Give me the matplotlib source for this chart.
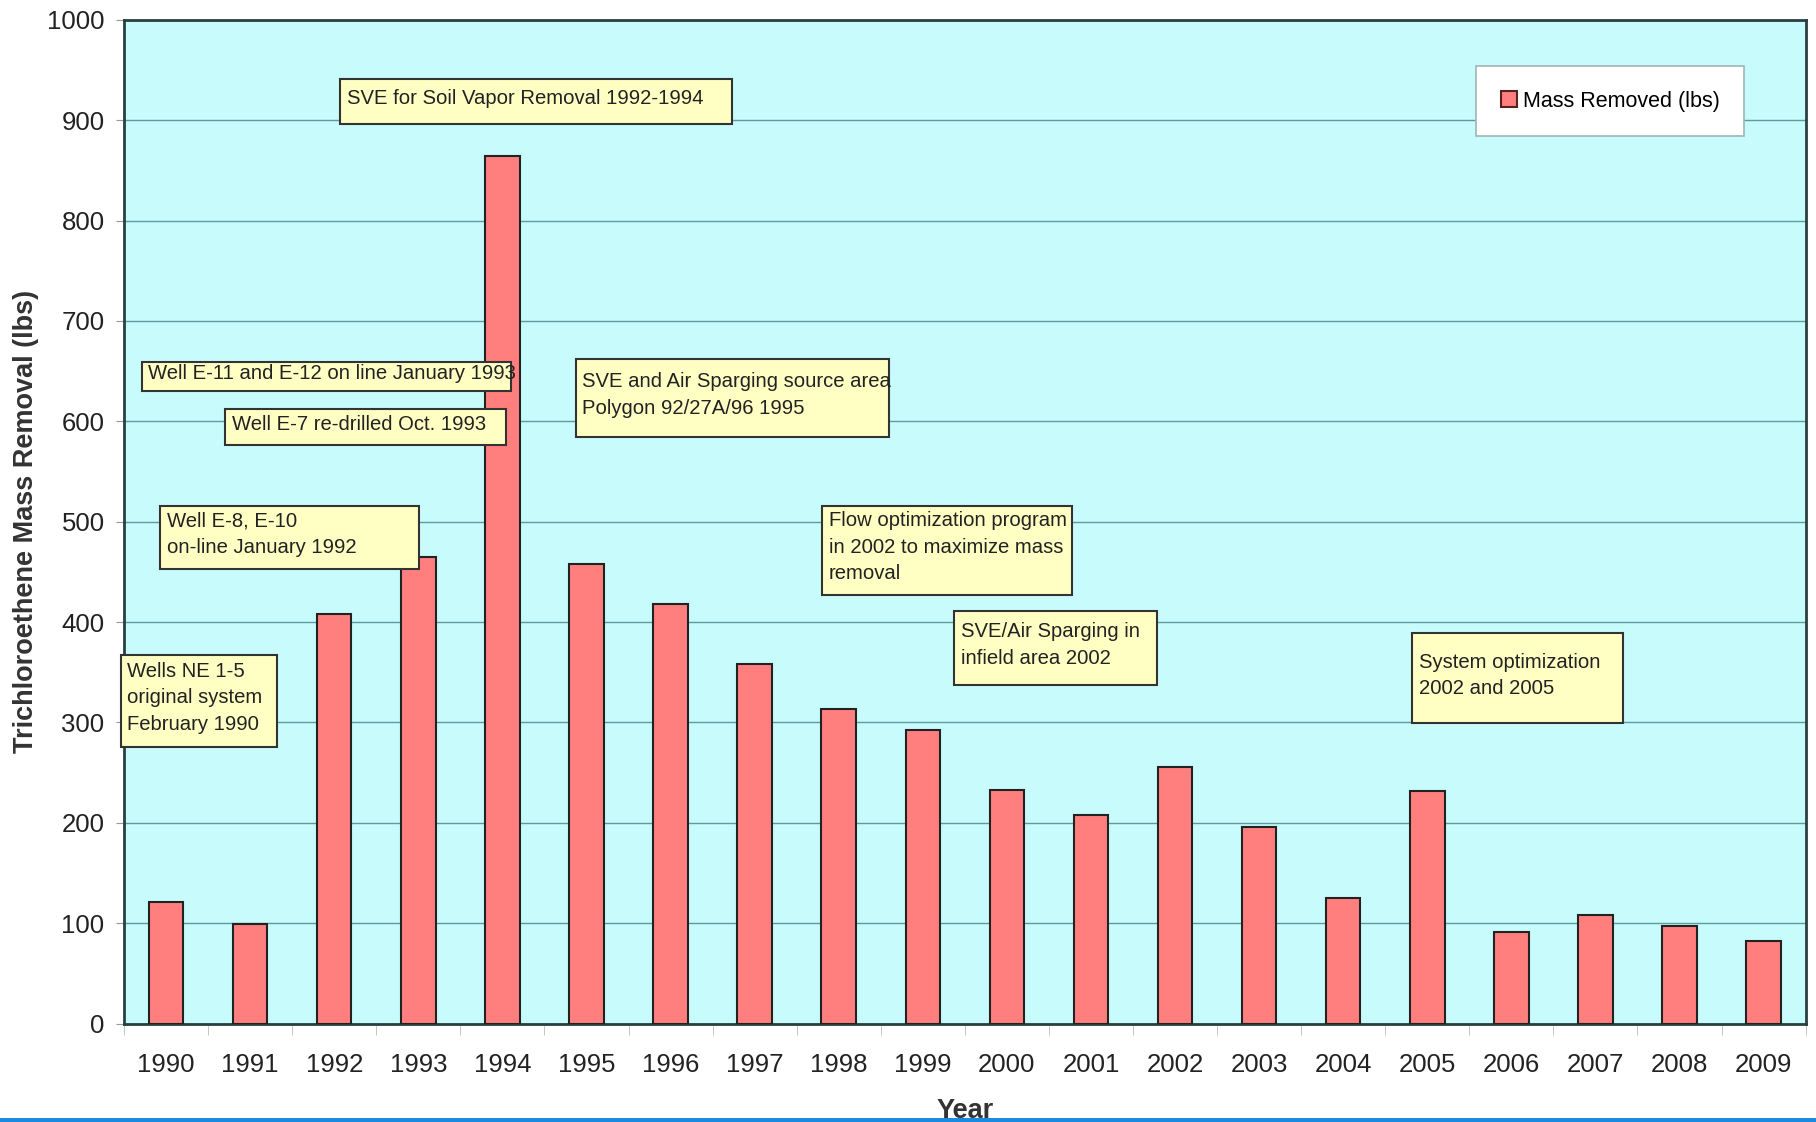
import matplotlib.pyplot as plt
import numpy as np
from matplotlib.patches import Rectangle

plt.rcParams['font.family'] = ['Liberation Sans', 'DejaVu Sans']

years = ['1990', '1991', '1992', '1993', '1994', '1995', '1996', '1997', '1998', '1999',
         '2000', '2001', '2002', '2003', '2004', '2005', '2006', '2007', '2008', '2009']
mass_removed = [121, 99, 408, 465, 864, 458, 418, 358, 313, 292,
                233, 208, 256, 196, 125, 232, 91, 108, 97, 82]

# note text, box left/right (category units), box bottom/top (lbs)
notes = [
    ("SVE for Soil Vapor Removal 1992-1994", 2.07, 6.73, 896, 941),
    ("Well E-11 and E-12 on line January 1993", -0.29, 4.10, 630, 659),
    ("Well E-7 re-drilled Oct. 1993", 0.70, 4.04, 576, 612),
    ("SVE and Air Sparging source area\nPolygon 92/27A/96 1995", 4.87, 8.60, 584, 662),
    ("Well E-8, E-10\non-line January 1992", -0.07, 3.01, 453, 516),
    ("Wells NE 1-5\noriginal system\nFebruary 1990", -0.54, 1.32, 276, 367),
    ("Flow optimization program\nin 2002 to maximize mass\nremoval", 7.80, 10.77, 427, 516),
    ("SVE/Air Sparging in\ninfield area 2002", 9.37, 11.79, 337, 411),
    ("System optimization\n2002 and 2005", 14.82, 17.33, 299, 389),
]

fig = plt.figure(figsize=(18.16, 11.22), dpi=100)
ax = fig.add_axes([0.0683, 0.0877, 0.926, 0.8947])
ax.set_facecolor('#c8fcfc')

x = np.arange(len(years))
ax.bar(x, mass_removed, width=0.41, color='#ff7f7f', edgecolor='#222222', linewidth=1.5,
       label='Mass Removed (lbs)', zorder=3)

ax.set_xlim(-0.5, len(years) - 0.5)
ax.set_ylim(0, 1000)
ax.set_yticks(range(0, 1001, 100))
ax.yaxis.grid(True, color='#5f9a9e', linewidth=1.0, zorder=1)
ax.set_axisbelow(True)

ax.set_xticks(x)
ax.set_xticklabels(years, fontsize=18.5)
ax.set_xticks(np.arange(-0.5, len(years)), minor=True)
ax.tick_params(axis='x', which='major', length=0, pad=21)
ax.tick_params(axis='x', which='minor', length=8, color='#bbbbbb')
ax.tick_params(axis='y', labelsize=18.5, length=6, color='#999999', pad=8)
for lbl in ax.get_xticklabels() + ax.get_yticklabels():
    lbl.set_color('#222222')

for s in ax.spines.values():
    s.set_color('#2a3f3f')
    s.set_linewidth(2)

ax.set_ylabel('Trichloroethene Mass Removal (lbs)', fontsize=19.5, fontweight='bold',
              labelpad=6, color='#333333')
ax.set_xlabel('Year', fontsize=19.5, fontweight='bold', labelpad=15, color='#333333')

for text, x0, x1, y0, y1 in notes:
    ax.add_patch(Rectangle((x0, y0), x1 - x0, y1 - y0, facecolor='#ffffc4',
                           edgecolor='#333333', linewidth=1.5, zorder=5, clip_on=False))
    ax.text(x0 + 0.08, (y0 + y1) / 2 + 3, text, fontsize=14.6, va='center', ha='left',
            linespacing=1.5, color='#222222', zorder=6)

leg = ax.legend(loc='upper right', bbox_to_anchor=(0.9635, 0.954), fontsize=15.5,
                frameon=True, fancybox=False, framealpha=1, handlelength=0.75,
                handleheight=0.75, handletextpad=0.25, borderpad=1.15, borderaxespad=0)
leg.get_frame().set_edgecolor('#9fb5b5')
leg.get_frame().set_linewidth(1.2)
leg.legend_handles[0].set_edgecolor('#552222')

fig.patches.append(Rectangle((0, 0), 1, 4 / 1122, transform=fig.transFigure,
                             facecolor='#1a8ae0', edgecolor='none'))

fig.savefig('out.png', dpi=100)
